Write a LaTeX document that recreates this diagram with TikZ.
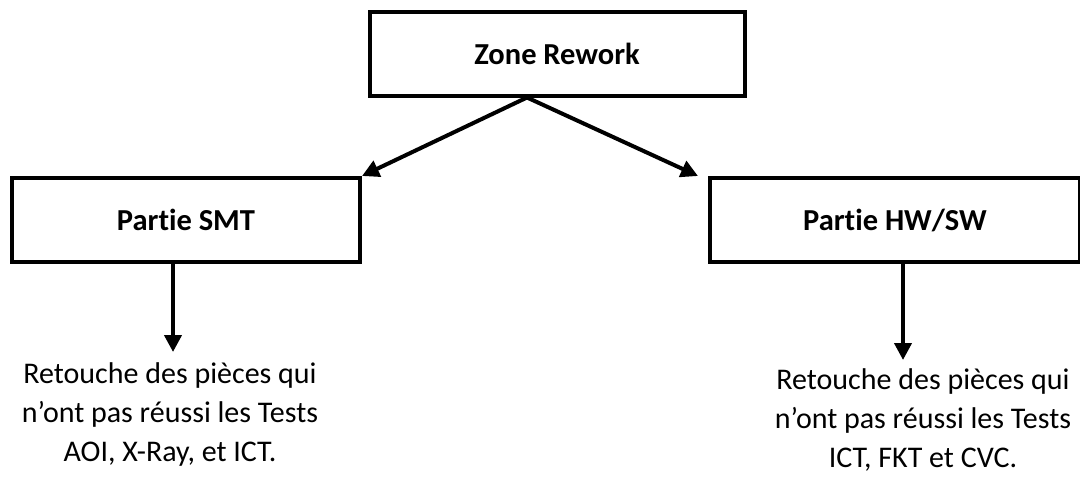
\documentclass[tikz,border=0pt]{standalone}
\usepackage{fontspec}
\setmainfont{Carlito}[Ligatures=NoCommon]
\usepackage{tikz}
\usetikzlibrary{arrows.meta}

\begin{document}
\begin{tikzpicture}[
  x=1pt, y=-1pt,
  box/.style={draw,line width=4pt,minimum width=#1,minimum height=84pt,
    inner sep=0pt,font=\fontsize{30.5}{34}\selectfont\bfseries},
  box/.default=350pt,
  note/.style={align=center,inner sep=0pt,anchor=north,
    font=\fontsize{30}{39}\selectfont},
  arrow/.style={-{Triangle[length=17pt,width=17pt]},line width=4pt}
]
  \useasboundingbox (0,0) rectangle (1080,482);

  \node[box=375pt] (rework) at (557,53.5) {Zone Rework};
  \node[box=348pt] (smt) at (186,220) {Partie SMT};
  \node[box=370pt] (hwsw) at (895,220) {Partie HW/SW};

  \node[note] (smttxt) at (170,362)
    {Retouche des pièces qui\\n’ont pas réussi les Tests\\AOI, X-Ray, et ICT.};
  \node[note] (hwtxt) at (923,368)
    {Retouche des pièces qui\\n’ont pas réussi les Tests\\ICT, FKT et CVC.};

  \draw[arrow] ([xshift=-30pt]rework.south) -- (smt.north east);
  \draw[arrow] ([xshift=-30pt]rework.south) -- ([xshift=-10pt]hwsw.north west);
  \draw[arrow] ([xshift=-13pt]smt.south) -- ([xshift=-13pt,yshift=-88pt]smt.south);
  \draw[arrow] ([xshift=8pt]hwsw.south) -- ([xshift=8pt,yshift=-96pt]hwsw.south);
\end{tikzpicture}
\end{document}
